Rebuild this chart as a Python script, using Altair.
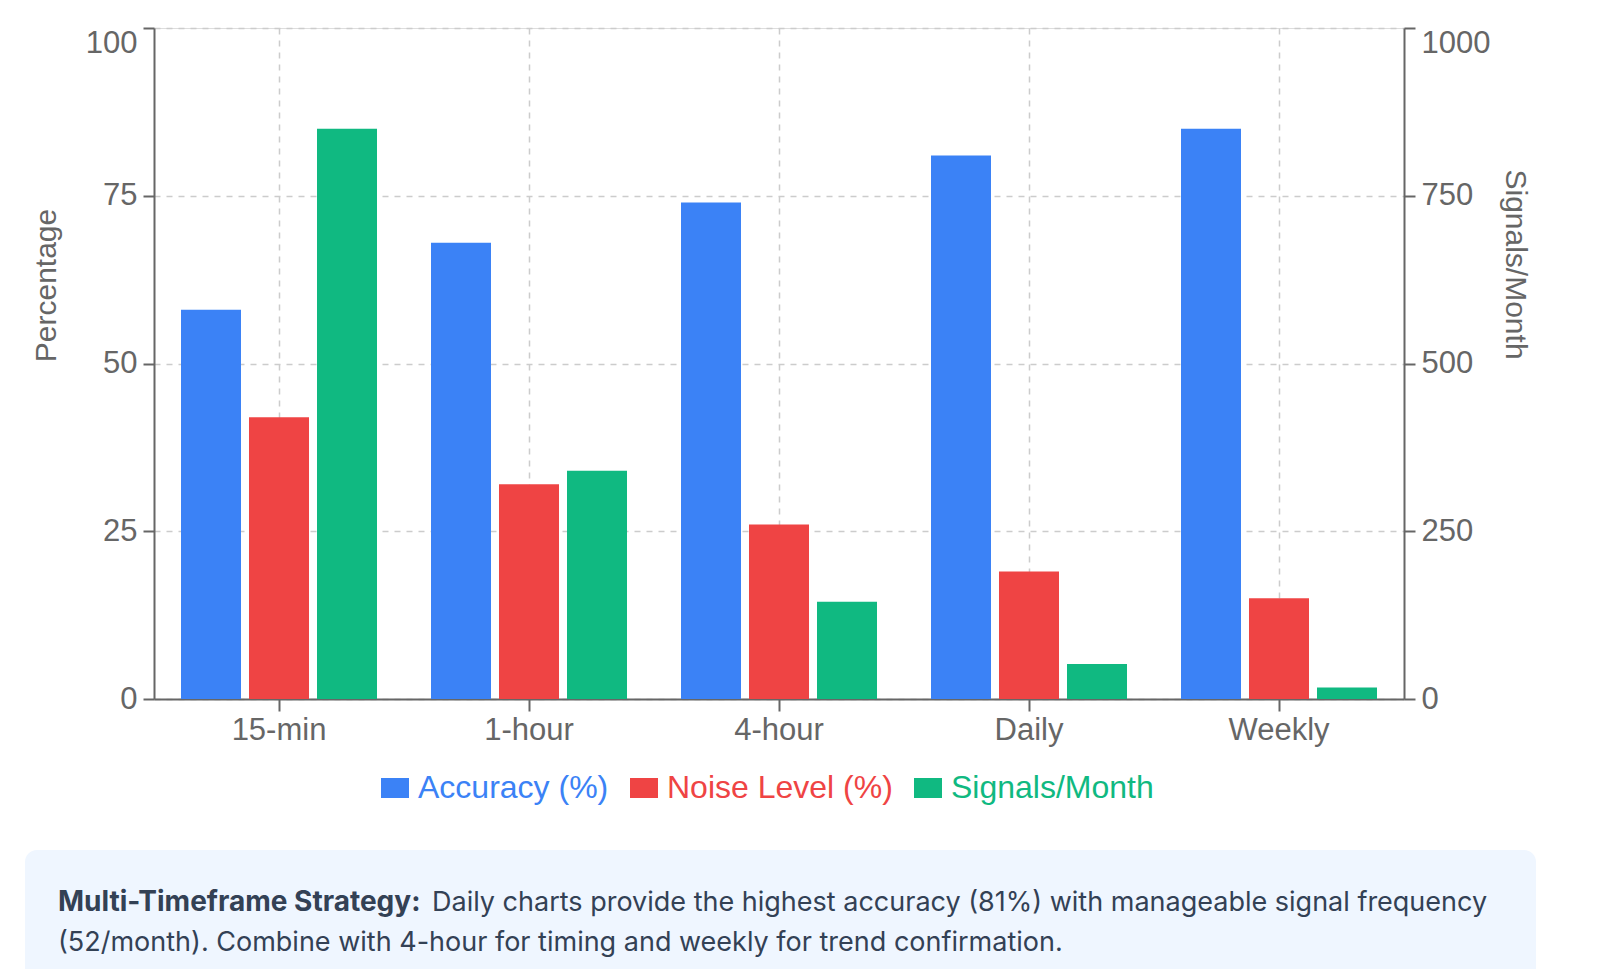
import altair as alt
import pandas as pd

timeframes = ["15-min", "1-hour", "4-hour", "Daily", "Weekly"]
accuracy = [58, 68, 74, 81, 85]
noise = [42, 32, 26, 19, 15]
signals = [850, 340, 145, 52, 17]

series = ["Accuracy (%)", "Noise Level (%)", "Signals/Month"]
colors = ["#3b82f6", "#ef4444", "#10b981"]

note_bold = "Multi-Timeframe Strategy:"
note_line1 = "Daily charts provide the highest accuracy (81%) with manageable signal frequency"
note_line2 = "(52/month). Combine with 4-hour for timing and weekly for trend confirmation."

rows = []
for name, vals in zip(series, [accuracy, noise, signals]):
    for tf, v in zip(timeframes, vals):
        rows.append({"timeframe": tf, "series": name, "value": v})
df = pd.DataFrame(rows)

FONT = "Liberation Sans"
GREY = "#666666"
GRID = "#cccccc"

label_color = (
    "datum.label == 'Accuracy (%)' ? '#3b82f6' : "
    "datum.label == 'Noise Level (%)' ? '#ef4444' : '#10b981'"
)

x = alt.X(
    "timeframe:N", sort=timeframes, title=None,
    scale=alt.Scale(paddingInner=0.216, paddingOuter=0.108),
    axis=alt.Axis(labelAngle=0, bandPosition=0.5, grid=True, gridDash=[6, 6],
                  gridColor=GRID, gridWidth=1.5, tickSize=12, tickWidth=2,
                  tickColor=GREY, domainColor=GREY, domainWidth=2,
                  labelFont=FONT, labelFontSize=31, labelColor=GREY, labelPadding=4),
)
xoff = alt.XOffset("series:N", sort=series,
                   scale=alt.Scale(domain=series, paddingInner=0.1176, paddingOuter=0))
color = alt.Color(
    "series:N", scale=alt.Scale(domain=series, range=colors),
    legend=alt.Legend(
        orient="none", legendX=225, legendY=744, direction="horizontal", title=None,
        symbolType="M-1.4,-1L1.4,-1L1.4,1L-1.4,1Z", symbolSize=400,
        symbolStrokeWidth=0, symbolOpacity=1, labelFont=FONT, labelFontSize=32,
        labelOffset=7, columnPadding=19, padding=0, labelLimit=0,
        labelColor={"expr": label_color},
    ),
)

axis_common = dict(
    labelFont=FONT, labelFontSize=31, labelColor=GREY, labelPadding=6,
    tickSize=11, tickWidth=2, tickColor=GREY, domainColor=GREY, domainWidth=2,
    titleFont=FONT, titleFontSize=30, titleFontWeight="normal", titleColor=GREY,
    titleAlign="center", titleBaseline="middle", format="d",
)

y_left = alt.Y(
    "value:Q", scale=alt.Scale(domain=[0, 100]),
    axis=alt.Axis(orient="left", values=[0, 25, 50, 75, 100], title="Percentage",
                  titleX=-108, titleY=257, titleAngle=-90,
                  grid=True, gridDash=[6, 6], gridColor=GRID, gridWidth=1.5,
                  labelBaseline={"condition": {"test": "datum.value == 100", "value": "top"},
                                 "value": "middle"},
                  **axis_common),
)
y_right = alt.Y(
    "value:Q", scale=alt.Scale(domain=[0, 1000]),
    axis=alt.Axis(orient="right", values=[0, 250, 500, 750, 1000], title="Signals/Month",
                  titleX=110, titleY=236, titleAngle=90, grid=False,
                  labelBaseline={"condition": {"test": "datum.value == 1000", "value": "top"},
                                 "value": "middle"},
                  **axis_common),
)

pct_bars = alt.Chart(df).transform_filter(
    alt.FieldOneOfPredicate(field="series", oneOf=series[:2])
).mark_bar().encode(x=x, xOffset=xoff, y=y_left, color=color)

sig_bars = alt.Chart(df).transform_filter(
    alt.FieldEqualPredicate(field="series", equal=series[2])
).mark_bar().encode(x=x, xOffset=xoff, y=y_right, color=color)

note_df = pd.DataFrame({"bold": [note_bold], "line1": [note_line1], "line2": [note_line2]})

box = alt.Chart(note_df).mark_rect(
    color="#eff6ff", cornerRadiusTopLeft=12, cornerRadiusTopRight=12
).encode(x=alt.value(-129), x2=alt.value(1382), y=alt.value(822), y2=alt.value(941))

note_text = dict(font="Inter", color="#334155", align="left", baseline="alphabetic")
t_bold = alt.Chart(note_df).mark_text(fontWeight="bold", fontSize=28, **note_text).encode(
    x=alt.value(-96), y=alt.value(883), text="bold:N")
t_one = alt.Chart(note_df).mark_text(fontSize=27, **note_text).encode(
    x=alt.value(278), y=alt.value(883), text="line1:N")
t_two = alt.Chart(note_df).mark_text(fontSize=27, **note_text).encode(
    x=alt.value(-96), y=alt.value(923), text="line2:N")

chart = alt.layer(pct_bars, sig_bars, box, t_bold, t_one, t_two).resolve_scale(
    y="independent"
).properties(
    width=1250, height=671,
    padding={"left": 17, "top": 19, "right": 5, "bottom": 0},
).configure_view(stroke=None).configure(font=FONT, background="white")

chart.save("out.html", embed_options={"renderer": "svg", "actions": False})
